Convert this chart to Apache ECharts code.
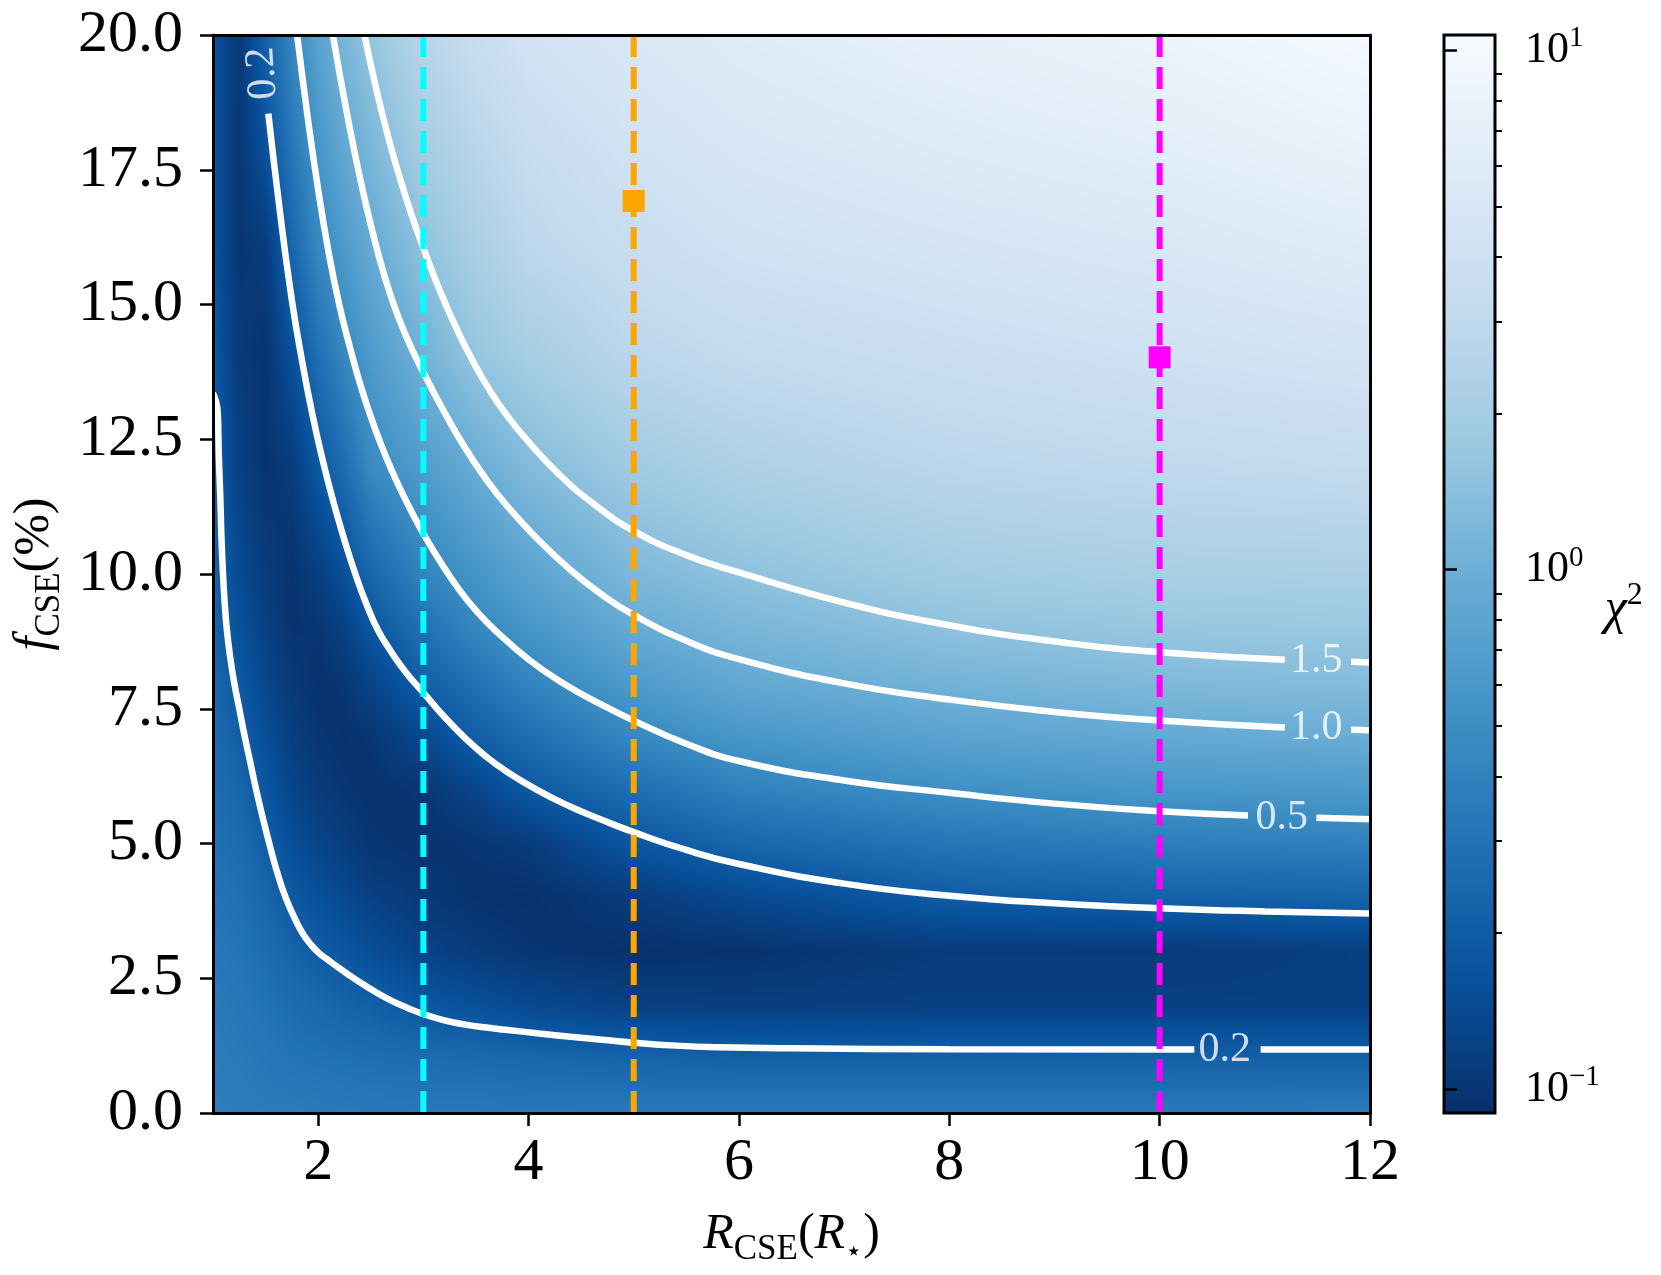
<!DOCTYPE html>
<html><head><meta charset="utf-8">
<script src="https://cdn.jsdelivr.net/npm/echarts@6/dist/echarts.min.js"></script>
<style>html,body{margin:0;padding:0;background:#fff}#chart{width:1661px;height:1275px}</style>
</head><body><div id="chart"></div>
<script>
// ---------------- DATA ----------------
const xNodes = [1, 1.25, 1.5, 1.75, 2, 2.25, 2.5, 3, 3.5, 4, 5, 6, 8, 10, 12];
const yNodes = [0, 1, 2, 3, 4, 5, 6, 7, 8, 9, 10, 12, 14, 16, 18, 20];
// chi^2 read at each (yNode row, xNode column)
const chi2Rows = [
  [0.37, 0.365, 0.36, 0.36, 0.355, 0.35, 0.345, 0.34, 0.34, 0.34, 0.35, 0.35, 0.35, 0.35, 0.36],
  [0.36, 0.35, 0.33, 0.31, 0.30, 0.29, 0.28, 0.27, 0.26, 0.245, 0.23, 0.22, 0.22, 0.22, 0.22],
  [0.355, 0.33, 0.30, 0.27, 0.25, 0.23, 0.215, 0.18, 0.16, 0.14, 0.12, 0.115, 0.12, 0.12, 0.12],
  [0.33, 0.31, 0.27, 0.23, 0.20, 0.18, 0.155, 0.125, 0.11, 0.10, 0.092, 0.095, 0.11, 0.11, 0.12],
  [0.31, 0.29, 0.24, 0.19, 0.16, 0.14, 0.12, 0.105, 0.095, 0.092, 0.11, 0.14, 0.20, 0.22, 0.23],
  [0.29, 0.27, 0.21, 0.155, 0.13, 0.115, 0.10, 0.095, 0.10, 0.11, 0.18, 0.24, 0.32, 0.37, 0.39],
  [0.275, 0.24, 0.18, 0.13, 0.11, 0.10, 0.095, 0.10, 0.13, 0.19, 0.28, 0.39, 0.51, 0.59, 0.63],
  [0.26, 0.215, 0.155, 0.115, 0.10, 0.095, 0.10, 0.14, 0.21, 0.28, 0.45, 0.59, 0.78, 0.89, 0.96],
  [0.245, 0.19, 0.135, 0.105, 0.095, 0.10, 0.13, 0.21, 0.30, 0.42, 0.65, 0.88, 1.1, 1.26, 1.33],
  [0.235, 0.165, 0.12, 0.097, 0.10, 0.12, 0.18, 0.29, 0.44, 0.58, 0.92, 1.16, 1.48, 1.65, 1.72],
  [0.225, 0.145, 0.11, 0.095, 0.115, 0.16, 0.24, 0.41, 0.57, 0.78, 1.22, 1.48, 1.9, 2.1, 2.15],
  [0.21, 0.12, 0.097, 0.11, 0.185, 0.27, 0.47, 0.67, 0.95, 1.3, 1.85, 2.25, 2.75, 3.0, 3.2],
  [0.19, 0.108, 0.097, 0.16, 0.28, 0.44, 0.64, 1.05, 1.6, 2.0, 2.75, 3.15, 3.6, 4.0, 4.4],
  [0.175, 0.10, 0.11, 0.24, 0.44, 0.63, 0.9, 1.48, 2.1, 2.8, 3.5, 4.1, 4.6, 5.1, 5.9],
  [0.168, 0.10, 0.17, 0.33, 0.58, 0.87, 1.2, 2.0, 2.7, 3.4, 4.3, 5.0, 5.8, 6.5, 7.8],
  [0.165, 0.105, 0.22, 0.44, 0.75, 1.17, 1.6, 2.6, 3.5, 4.3, 5.2, 6.0, 7.1, 8.1, 10.0]
];
const xTicks = [2, 4, 6, 8, 10, 12];
const yTicks = [0, 2.5, 5, 7.5, 10, 12.5, 15, 17.5, 20];
const cbarMin = 0.0899, cbarMax = 10.7;
const cbarMajor = [0.1, 1, 10];
const cbarMinor = [0.2, 0.3, 0.4, 0.5, 0.6, 0.7, 0.8, 0.9, 2, 3, 4, 5, 6, 7, 8, 9];

// contour traces (x, y); "A" = before the label gap, "B" = after it
const c02upper = [[1.526,18.54],[1.638,16.7],[1.75,15.08],[1.848,13.94],[1.945,12.96],[2.043,12.11],[2.14,11.37],[2.248,10.64],[2.355,9.99],[2.463,9.42],[2.57,8.95],[2.68,8.6],[2.785,8.30],[2.89,8.04],[3.0,7.8],[3.195,7.36],[3.39,6.97],[3.585,6.63],[3.78,6.35],[4.085,5.99],[4.39,5.69],[4.695,5.44],[5.0,5.21],[5.5,4.88],[6.0,4.62],[7.0,4.255],[8.0,4.03],[9.0,3.89],[10.0,3.80],[11.0,3.74],[12.0,3.70]];
const c02lowerA = [[1.0,13.35],[1.045,13.0],[1.055,12.2],[1.07,11.4],[1.08,10.7],[1.095,10.0],[1.11,9.5],[1.13,9.0],[1.16,8.5],[1.20,8.0],[1.25,7.5],[1.30,7.0],[1.355,6.5],[1.41,6.0],[1.47,5.5],[1.535,5.0],[1.605,4.5],[1.69,4.0],[1.78,3.6],[1.85,3.34],[1.92,3.15],[2.0,2.98],[2.1,2.83],[2.19,2.70],[2.3,2.55],[2.4,2.42],[2.55,2.24],[2.7,2.08],[2.85,1.95],[3.0,1.835],[3.2,1.72],[3.4,1.64],[3.6,1.585],[3.78,1.545],[4.1,1.475],[4.4,1.415],[4.7,1.36],[5.0,1.305],[5.4,1.25],[5.8,1.22],[6.5,1.20],[8.0,1.185],[10.33,1.18]];
const c02lowerB = [[10.96,1.18],[12.0,1.18]];
const c05A = [[1.80,20],[1.9,18.48],[2.0,17.13],[2.1,15.96],[2.2,15.0],[2.3,14.22],[2.4,13.52],[2.5,12.92],[2.6,12.39],[2.7,11.92],[2.8,11.5],[2.9,11.11],[3.0,10.75],[3.17,10.2],[3.34,9.71],[3.51,9.3],[3.68,8.96],[4.01,8.40],[4.34,7.96],[4.67,7.60],[5.0,7.28],[5.5,6.85],[6.0,6.53],[7.0,6.17],[8.0,5.94],[9.0,5.74],[10.0,5.6],[10.84,5.52]];
const c05B = [[11.49,5.48],[12.0,5.45]];
const c10A = [[2.14,20],[2.28,18.48],[2.42,17.15],[2.56,16.02],[2.7,15.1],[2.85,14.35],[3.0,13.74],[3.195,13.02],[3.39,12.36],[3.585,11.79],[3.78,11.3],[4.085,10.65],[4.39,10.09],[4.695,9.62],[5.0,9.24],[5.5,8.76],[6.0,8.42],[7.0,7.97],[8.0,7.67],[9.0,7.44],[10.0,7.28],[11.19,7.15]];
const c10B = [[11.82,7.11],[12.0,7.1]];
const c15A = [[2.44,20],[2.552,19.0],[2.664,18.12],[2.776,17.35],[2.888,16.66],[3.0,16.05],[3.156,15.26],[3.312,14.57],[3.468,13.96],[3.624,13.43],[3.78,12.98],[4.0,12.45],[4.3,11.83],[4.6,11.33],[5.0,10.8],[5.5,10.35],[6.0,10.03],[7.0,9.47],[8.0,9.05],[9.0,8.75],[10.0,8.55],[11.19,8.41]];
const c15B = [[11.82,8.37],[12.0,8.36]];
const contourLabelPos = [[11.49,8.39],[11.49,7.15],[11.16,5.48],[10.62,1.175]];
const contourLabelText = ['1.5','1.0','0.5','0.2'];
const topLabelPos = [[1.475,19.29]];
const topLabelText = ['0.2'];
const rCyan = 3, rOrange = 5, rMagenta = 10;
const bestOrange = [5, 16.92];
const bestMagenta = [10, 14.02];

// ---------------- STYLE / BUILD ----------------
const FONT = "'Liberation Serif','DejaVu Serif',serif";
const BLUES = ['#f7fbff','#deebf7','#c6dbef','#9ecae1','#6baed6','#4292c6','#2171b5','#08519c','#08306b'];
const RGB = BLUES.map(h => [parseInt(h.slice(1,3),16), parseInt(h.slice(3,5),16), parseInt(h.slice(5,7),16)]);
const LMIN = Math.log10(cbarMin), LMAX = Math.log10(cbarMax);
function rgbAtL(L) {
  let t = (L - LMIN) / (LMAX - LMIN);
  t = Math.max(0, Math.min(1, t));
  const s = (1 - t) * 8;
  const i = Math.min(7, Math.floor(s));
  const f = s - i;
  const a = RGB[i], b = RGB[i + 1];
  return [a[0] + (b[0] - a[0]) * f, a[1] + (b[1] - a[1]) * f, a[2] + (b[2] - a[2]) * f];
}
const heatCells = [];
for (let j = 0; j < yNodes.length - 1; j++) {
  for (let i = 0; i < xNodes.length - 1; i++) {
    heatCells.push([xNodes[i], yNodes[j], xNodes[i+1], yNodes[j+1],
      Math.log10(chi2Rows[j][i]), Math.log10(chi2Rows[j][i+1]),
      Math.log10(chi2Rows[j+1][i]), Math.log10(chi2Rows[j+1][i+1])]);
  }
}
function renderCell(params, api) {
  const x0 = api.value(0), y0 = api.value(1), x1 = api.value(2), y1 = api.value(3);
  const l00 = api.value(4), l10 = api.value(5), l01 = api.value(6), l11 = api.value(7);
  const pTL = api.coord([x0, y1]), pBR = api.coord([x1, y0]);
  const left = Math.round(pTL[0]), top = Math.round(pTL[1]);
  const w = Math.round(pBR[0]) - left, h = Math.round(pBR[1]) - top;
  if (w <= 0 || h <= 0) return null;
  const cv = document.createElement('canvas');
  cv.width = w; cv.height = h;
  const ctx = cv.getContext('2d');
  const img = ctx.createImageData(w, h);
  for (let py = 0; py < h; py++) {
    const v = 1 - (py + 0.5) / h;
    for (let px = 0; px < w; px++) {
      const u = (px + 0.5) / w;
      const L = (1-u)*(1-v)*l00 + u*(1-v)*l10 + (1-u)*v*l01 + u*v*l11;
      const c = rgbAtL(L);
      const k = (py * w + px) * 4;
      img.data[k] = c[0]; img.data[k+1] = c[1]; img.data[k+2] = c[2]; img.data[k+3] = 255;
    }
  }
  ctx.putImageData(img, 0, 0);
  return { type: 'image', style: { image: cv, x: left, y: top, width: w, height: h } };
}

const lineStyleWhite = { color: '#ffffff', width: 6.5 };
function contourSeries(d) {
  return { type: 'line', xAxisIndex: 0, yAxisIndex: 0, data: d, showSymbol: false, symbol: 'none',
    smooth: 0.5, lineStyle: lineStyleWhite, z: 3, silent: true, animation: false, clip: true };
}
function vline(x, color) {
  return { type: 'line', xAxisIndex: 0, yAxisIndex: 0, data: [[x, 0], [x, 20]], symbol: 'none',
    lineStyle: { color: color, width: 6, type: [22, 10] }, z: 5, silent: true, animation: false };
}
const labelRich = {
  i: { fontFamily: FONT, fontStyle: 'italic', fontSize: 50, lineHeight: 64, color: '#000' },
  n: { fontFamily: FONT, fontSize: 50, lineHeight: 64, color: '#000' },
  s: { fontFamily: FONT, fontSize: 35, lineHeight: 40, verticalAlign: 'bottom', color: '#000' },
  st: { fontFamily: FONT, fontSize: 28, lineHeight: 36, verticalAlign: 'bottom', color: '#000' }
};

const chart = echarts.init(document.getElementById('chart'), null, { renderer: 'canvas' });
chart.setOption({
  backgroundColor: '#ffffff',
  animation: false,
  grid: [
    { left: 213, top: 35, width: 1157, height: 1078 },
    { left: 1444, top: 35, width: 51, height: 1078 }
  ],
  xAxis: [
    { type: 'value', gridIndex: 0, min: 1, max: 12, position: 'bottom', z: 10,
      axisLine: { show: true, onZero: false, lineStyle: { color: '#000', width: 3 } },
      axisTick: { show: true, customValues: xTicks, length: 13, lineStyle: { color: '#000', width: 2.5 } },
      axisLabel: { customValues: xTicks, fontFamily: FONT, fontSize: 60, color: '#000', margin: 20 },
      splitLine: { show: false },
      name: '{i|R}{s|CSE}{n|(}{i|R}{st|⋆}{n|)}', nameLocation: 'middle', nameGap: 90,
      nameTextStyle: { rich: labelRich } },
    { type: 'value', gridIndex: 0, min: 1, max: 12, position: 'top', z: 10,
      axisLine: { show: true, onZero: false, lineStyle: { color: '#000', width: 3 } },
      axisTick: { show: false }, axisLabel: { show: false }, splitLine: { show: false } },
    { type: 'value', gridIndex: 1, min: 0, max: 1, show: false }
  ],
  yAxis: [
    { type: 'value', gridIndex: 0, min: 0, max: 20, interval: 2.5, position: 'left', z: 10,
      axisLine: { show: true, onZero: false, lineStyle: { color: '#000', width: 3 } },
      axisTick: { show: true, customValues: yTicks, length: 13, lineStyle: { color: '#000', width: 2.5 } },
      axisLabel: { customValues: yTicks, fontFamily: FONT, fontSize: 60, color: '#000', margin: 30,
        formatter: v => Number(v).toFixed(1) },
      splitLine: { show: false },
      name: '{i|f}{s|CSE}{n|(%)}', nameLocation: 'middle', nameGap: 137,
      nameTextStyle: { rich: labelRich } },
    { type: 'value', gridIndex: 0, min: 0, max: 20, position: 'right', z: 10,
      axisLine: { show: true, onZero: false, lineStyle: { color: '#000', width: 3 } },
      axisTick: { show: false }, axisLabel: { show: false }, splitLine: { show: false } },
    { type: 'value', gridIndex: 1, min: LMIN, max: LMAX, position: 'right', z: 10,
      axisLine: { show: false },
      axisTick: { show: true, customValues: cbarMajor.map(Math.log10), length: 13, lineStyle: { color: '#000', width: 2.5 } },
      axisLabel: { customValues: cbarMajor.map(Math.log10), margin: 30,
        formatter: v => { const e = Math.round(v); return '{b|10}{s|' + (e < 0 ? '\u2212' : '') + Math.abs(e) + '}'; },
        rich: {
          b: { fontFamily: FONT, fontSize: 44, lineHeight: 52, color: '#000' },
          s: { fontFamily: FONT, fontSize: 29, lineHeight: 30, verticalAlign: 'top', color: '#000' }
        } },
      splitLine: { show: false },
      name: '{i|χ}{sup|2}', nameLocation: 'middle', nameGap: 105, nameRotate: 0,
      nameTextStyle: { padding: [72, 0, 0, 0], rich: {
        i: { fontFamily: FONT, fontStyle: 'italic', fontSize: 50, lineHeight: 60, color: '#000' },
        sup: { fontFamily: FONT, fontSize: 32, lineHeight: 34, verticalAlign: 'top', color: '#000' } } } },
    { type: 'value', gridIndex: 1, min: LMIN, max: LMAX, position: 'right', z: 10,
      axisLine: { show: false },
      axisTick: { show: true, customValues: cbarMinor.map(Math.log10), length: 7, lineStyle: { color: '#000', width: 2 } },
      axisLabel: { show: false }, splitLine: { show: false } }
  ],
  series: [
    { type: 'custom', xAxisIndex: 0, yAxisIndex: 0, data: heatCells, encode: { x: [0, 2], y: [1, 3] },
      renderItem: renderCell, z: 1, silent: true, animation: false, clip: true },
    contourSeries(c02upper), contourSeries(c02lowerA), contourSeries(c02lowerB),
    contourSeries(c05A), contourSeries(c05B), contourSeries(c10A), contourSeries(c10B),
    contourSeries(c15A), contourSeries(c15B),
    { type: 'scatter', xAxisIndex: 0, yAxisIndex: 0, symbolSize: 0, z: 4, silent: true, animation: false,
      data: contourLabelPos.map((p, k) => ({ value: p, name: contourLabelText[k] })),
      label: { show: true, position: 'inside', formatter: '{b}', color: '#fff', fontFamily: FONT, fontSize: 42 } },
    { type: 'scatter', xAxisIndex: 0, yAxisIndex: 0, symbolSize: 0, z: 4, silent: true, animation: false,
      data: topLabelPos.map((p, k) => ({ value: p, name: topLabelText[k] })),
      label: { show: true, position: 'inside', formatter: '{b}', color: '#fff', fontFamily: FONT, fontSize: 42, rotate: 94 } },
    vline(rCyan, '#00ffff'), vline(rOrange, '#ffa500'), vline(rMagenta, '#ff00ff'),
    { type: 'scatter', xAxisIndex: 0, yAxisIndex: 0, symbol: 'rect', symbolSize: 22, z: 6, silent: true, animation: false,
      data: [bestOrange], itemStyle: { color: '#ffa500', opacity: 1 } },
    { type: 'scatter', xAxisIndex: 0, yAxisIndex: 0, symbol: 'rect', symbolSize: 22, z: 6, silent: true, animation: false,
      data: [bestMagenta], itemStyle: { color: '#ff00ff', opacity: 1 } },
    { type: 'custom', xAxisIndex: 2, yAxisIndex: 2, data: [[0, LMIN, 1, LMAX]], encode: { x: [0, 2], y: [1, 3] },
      z: 1, silent: true, animation: false,
      renderItem: (params, api) => {
        const p0 = api.coord([api.value(0), api.value(3)]);
        const p1 = api.coord([api.value(2), api.value(1)]);
        return { type: 'rect', shape: { x: p0[0], y: p0[1], width: p1[0] - p0[0], height: p1[1] - p0[1] },
          style: { fill: new echarts.graphic.LinearGradient(0, 0, 0, 1, BLUES.map((c, k) => ({ offset: k / 8, color: c }))),
            stroke: '#000', lineWidth: 3 } };
      } }
  ]
});
</script></body></html>
